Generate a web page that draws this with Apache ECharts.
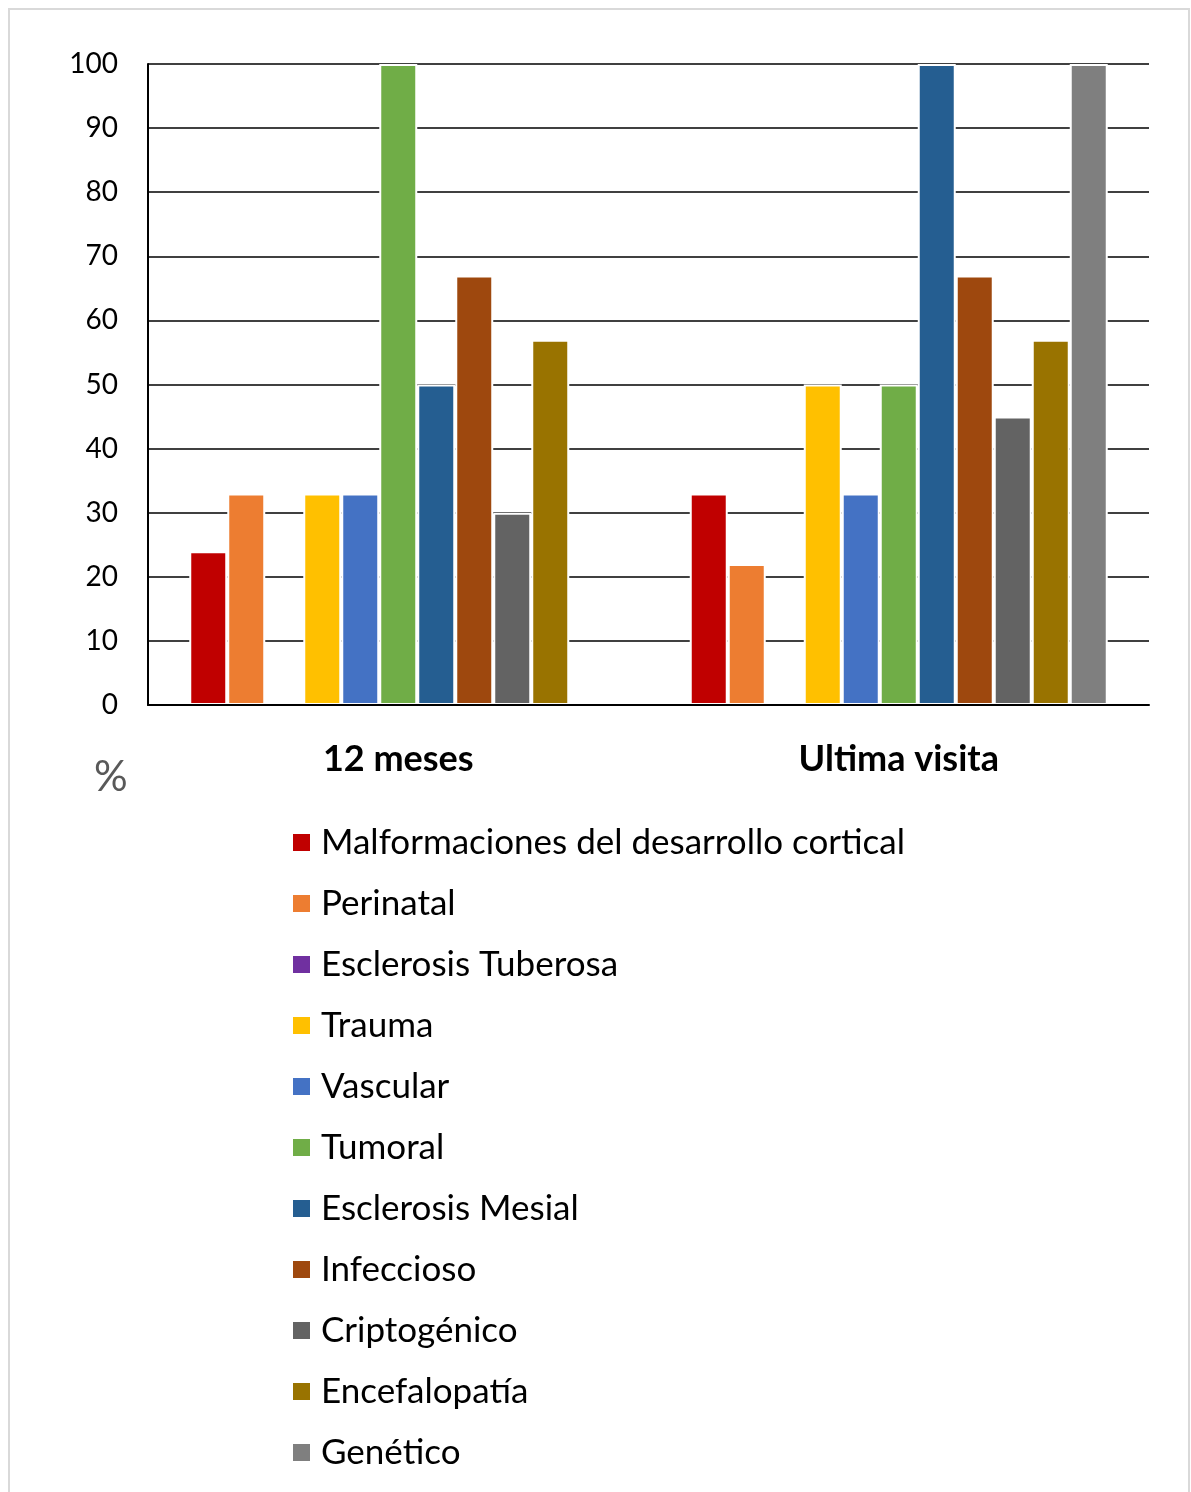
<!DOCTYPE html>
<html>
<head>
<meta charset="utf-8">
<script src="https://cdn.jsdelivr.net/npm/echarts@6/dist/echarts.min.js"></script>
<style>html,body{margin:0;padding:0;background:#fff;}#c{width:1191px;height:1492px;}</style>
</head>
<body>
<div id="c"></div>
<script>
const categories = ['12 meses', 'Ultima visita'];
const seriesNames = ['Malformaciones del desarrollo cortical','Perinatal','Esclerosis Tuberosa','Trauma','Vascular','Tumoral','Esclerosis Mesial','Infeccioso','Criptogénico','Encefalopatía','Genético'];
const malformaciones = [24, 33];
const perinatal = [33, 22];
const esclerosisTuberosa = [0, 0];
const trauma = [33, 50];
const vascular = [33, 33];
const tumoral = [100, 50];
const esclerosisMesial = [50, 100];
const infeccioso = [67, 67];
const criptogenico = [30, 45];
const encefalopatia = [57, 57];
const genetico = [0, 100];
const yTicks = [0, 10, 20, 30, 40, 50, 60, 70, 80, 90, 100];
const colors = ['#C00000','#ED7D31','#7030A0','#FFC000','#4472C4','#70AD47','#255E91','#9E480E','#636363','#997300','#7F7F7F'];
const allValues = [malformaciones, perinatal, esclerosisTuberosa, trauma, vascular, tumoral, esclerosisMesial, infeccioso, criptogenico, encefalopatia, genetico];

const font = 'Lato, "Open Sans", sans-serif';
const chart = echarts.init(document.getElementById('c'), null, {renderer: 'canvas'});
const series = seriesNames.map((n, i) => ({
  name: n,
  type: 'bar',
  barWidth: 38,
  barGap: '0%',
  data: allValues[i].map(v => ({value: v, itemStyle: {borderWidth: v === 0 ? 0 : 2}})),
  itemStyle: {color: colors[i], borderColor: '#ffffff', borderWidth: 2},
  emphasis: {disabled: true}
}));
chart.setOption({
  animation: false,
  backgroundColor: '#ffffff',
  textStyle: {fontFamily: font},
  grid: {left: 148, right: 42, top: 64, height: 641, containLabel: false},
  xAxis: {
    type: 'category',
    data: categories,
    axisLine: {show: true, lineStyle: {color: '#000', width: 2}},
    axisTick: {show: false},
    axisLabel: {fontSize: 36, fontWeight: 'bold', color: '#000', margin: 36, fontFamily: font},
    z: 3
  },
  yAxis: {
    type: 'value',
    min: yTicks[0], max: yTicks[yTicks.length - 1], interval: 10,
    axisLine: {show: true, lineStyle: {color: '#000', width: 2}},
    axisTick: {show: false},
    axisLabel: {fontSize: 28, color: '#000', margin: 30, fontFamily: font, padding: [4,0,0,0]},
    splitLine: {show: true, lineStyle: {color: '#000', width: 1.5}}
  },
  legend: {
    orient: 'vertical',
    left: 291,
    top: 825,
    height: 700,
    padding: 0,
    itemWidth: 19,
    itemHeight: 19,
    itemGap: 26,
    icon: 'rect',
    textStyle: {fontSize: 35, color: '#000', fontFamily: font, padding: [0,0,0,5]},
    data: seriesNames
  },
  graphic: [
    {type: 'rect', shape: {x: 9, y: 9, width: 1180, height: 1500}, style: {fill: 'none', stroke: '#d9d9d9', lineWidth: 2}, z: -1},
    {type: 'text', left: 94, top: 756, style: {text: '%', fontSize: 42, fill: '#595959', fontFamily: font}}
  ],
  series: series
});
</script>
</body>
</html>
